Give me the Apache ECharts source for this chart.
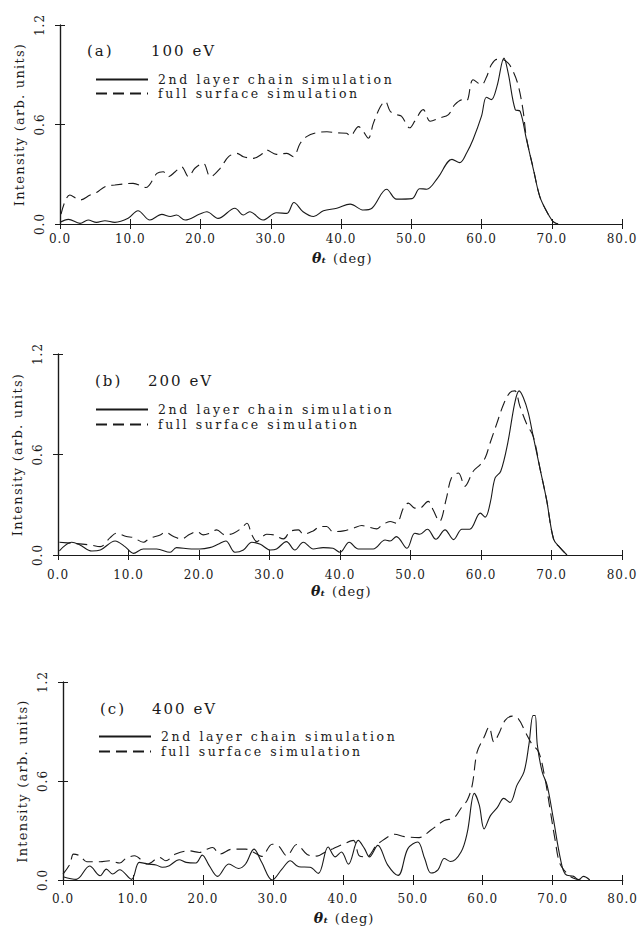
<!DOCTYPE html>
<html><head><meta charset="utf-8">
<script src="https://cdn.jsdelivr.net/npm/echarts@6/dist/echarts.min.js"></script>
<style>html,body{margin:0;padding:0;background:#fff}#c{width:639px;height:926px}</style>
</head><body><div id="c"></div>
<script>
// ---------- data (angle in deg, intensity in arb. units) ----------
const xTickValues = [0, 10, 20, 30, 40, 50, 60, 70, 80];
const yTickValues = [0.0, 0.6, 1.2];
const seriesNames = ['2nd layer chain simulation', 'full surface simulation'];
const panelLabels = ['(a)', '(b)', '(c)'];
const panelEnergies = ['100 eV', '200 eV', '400 eV'];

const aChainX = [0.0,1.2,2.85,4.0,5.2,6.4,7.8,9.7,11.1,12.8,14.5,15.7,16.6,17.8,19.9,20.9,22.5,24.9,26.1,27.0,28.9,30.8,32.3,33.3,34.6,36.1,37.5,39.4,41.3,43.2,44.4,46.5,47.9,50.1,51.2,52.2,53.8,55.8,56.9,57.9,58.8,60.0,60.7,61.4,62.2,63.2,63.8,64.8,65.5,66.4,67.4,68.3,69.3,70.2,70.9];
const aChainY = [0.01,0.028,0.004,0.024,0.01,0.02,0.01,0.034,0.08,0.024,0.058,0.045,0.054,0.024,0.06,0.074,0.034,0.095,0.054,0.074,0.024,0.068,0.064,0.13,0.074,0.045,0.08,0.095,0.12,0.084,0.095,0.21,0.15,0.153,0.213,0.21,0.28,0.39,0.37,0.43,0.51,0.65,0.764,0.75,0.83,1.0,0.91,0.69,0.68,0.51,0.326,0.165,0.074,0.014,0.0];
const aFullX = [0.15,1.4,2.85,4.3,5.2,6.4,7.8,10.4,12.2,13.8,14.7,15.4,16.4,17.3,18.3,19.2,20.4,21.4,22.8,24.0,25.2,26.1,27.5,28.9,29.4,30.8,32.3,33.2,34.2,35.1,36.5,38.0,39.4,40.8,41.3,42.5,43.2,43.9,44.6,45.6,46.3,47.0,47.9,48.6,49.8,50.5,51.7,52.7,54.1,55.3,56.2,57.4,57.9,58.8,60.0,60.7,61.4,62.2,62.9,63.8,64.5,65.2,65.9,66.4,67.4,68.3,69.3,70.2,70.9];
const aFullY = [0.06,0.175,0.145,0.175,0.19,0.225,0.235,0.245,0.22,0.305,0.315,0.285,0.315,0.345,0.285,0.336,0.366,0.285,0.336,0.406,0.426,0.406,0.396,0.426,0.446,0.42,0.426,0.406,0.487,0.527,0.55,0.556,0.55,0.547,0.53,0.587,0.556,0.517,0.607,0.707,0.74,0.68,0.66,0.65,0.58,0.62,0.69,0.62,0.64,0.66,0.72,0.75,0.745,0.87,0.84,0.885,0.96,0.993,0.993,0.97,0.92,0.84,0.69,0.52,0.33,0.165,0.074,0.014,0.0];

const bChainX = [0.2,1.94,3.1,4.8,6.0,8.1,9.5,10.7,12.1,14.0,15.9,16.8,18.9,20.1,21.5,22.7,23.8,25.1,26.3,27.5,28.7,30.1,31.0,32.4,33.6,34.8,36.2,37.6,39.0,40.0,41.3,42.6,44.7,46.4,47.1,48.0,49.5,50.6,51.3,52.4,53.6,54.9,56.1,57.3,58.4,59.9,60.6,61.3,62.0,62.8,63.8,64.8,65.4,66.0,66.7,67.4,68.4,69.3,70.3,71.2,72.2];
const bChainY = [0.024,0.076,0.06,0.024,0.03,0.084,0.05,0.01,0.036,0.036,0.016,0.044,0.036,0.036,0.044,0.064,0.084,0.016,0.03,0.076,0.064,0.03,0.036,0.08,0.03,0.076,0.036,0.044,0.04,0.016,0.076,0.036,0.036,0.09,0.084,0.11,0.04,0.13,0.124,0.154,0.094,0.15,0.092,0.154,0.154,0.25,0.226,0.31,0.46,0.5,0.67,0.91,0.98,0.94,0.85,0.71,0.51,0.33,0.094,0.044,0.0];
const bFullX = [0.2,2.0,4.5,6.0,7.4,8.3,9.7,10.7,12.1,13.0,14.5,15.2,16.4,17.5,18.7,19.7,20.6,21.5,22.5,23.7,24.9,26.0,26.8,27.5,28.2,29.6,30.6,32.0,32.9,34.1,34.8,36.2,37.2,38.1,39.0,40.5,41.9,43.1,43.8,45.2,45.9,47.1,48.0,49.0,49.7,50.6,51.3,52.5,53.2,54.1,55.1,55.8,56.8,57.7,58.9,59.9,60.6,61.3,62.2,63.2,64.1,64.8,65.5,66.5,67.4,68.4,69.3,70.3,71.2,72.2];
const bFullY = [0.076,0.07,0.06,0.05,0.104,0.13,0.11,0.104,0.076,0.1,0.12,0.136,0.11,0.096,0.124,0.14,0.12,0.13,0.15,0.12,0.13,0.16,0.19,0.12,0.08,0.124,0.12,0.096,0.14,0.15,0.124,0.144,0.17,0.17,0.14,0.144,0.16,0.176,0.17,0.156,0.176,0.2,0.19,0.28,0.31,0.28,0.28,0.32,0.27,0.2,0.34,0.46,0.49,0.41,0.5,0.54,0.58,0.67,0.78,0.9,0.97,0.98,0.89,0.78,0.71,0.51,0.33,0.094,0.044,0.0];

const cChainX = [0.0,1.9,3.8,5.3,6.2,7.1,8.1,9.8,10.9,12.1,13.3,14.2,15.2,16.6,17.6,19.0,19.9,20.9,22.1,23.7,25.1,26.1,27.3,28.4,29.9,31.3,32.5,33.7,35.3,36.5,37.9,38.9,39.8,40.8,42.2,43.1,43.8,45.0,46.4,47.9,49.3,50.7,51.7,52.6,53.6,54.5,55.4,56.9,57.8,58.8,59.5,60.2,61.1,62.1,63.0,63.9,64.9,65.9,66.6,67.2,67.5,67.8,68.5,69.2,70.1,71.1,71.8,73.0,73.7,74.4,75.3];
const cChainY = [0.02,0.004,0.085,0.026,0.066,0.036,0.062,0.004,0.107,0.097,0.091,0.077,0.087,0.123,0.107,0.103,0.151,0.087,0.022,0.097,0.07,0.097,0.187,0.107,0.0,0.066,0.117,0.08,0.077,0.04,0.2,0.14,0.17,0.096,0.24,0.19,0.14,0.21,0.092,0.028,0.19,0.23,0.13,0.042,0.062,0.13,0.112,0.17,0.29,0.525,0.455,0.31,0.39,0.44,0.495,0.47,0.575,0.655,0.82,0.997,0.997,0.82,0.655,0.575,0.37,0.13,0.036,0.022,0.002,0.022,0.0];
const cFullX = [0.0,1.0,1.5,2.4,3.4,5.3,6.7,8.1,9.0,10.2,12.1,13.8,14.7,16.1,18.0,19.5,20.6,21.4,22.4,24.2,26.1,27.3,28.4,29.9,30.8,32.0,33.4,34.9,36.3,37.5,38.6,40.2,41.5,42.4,43.4,44.8,45.7,47.4,48.8,50.9,52.6,54.5,55.9,56.9,57.8,58.5,59.2,60.2,60.9,61.6,62.3,63.2,64.2,65.1,66.1,67.0,68.0,68.9,69.6,70.3,71.0,72.0,73.0,74.0];
const cFullY = [0.036,0.097,0.157,0.147,0.111,0.111,0.117,0.103,0.131,0.147,0.097,0.137,0.117,0.157,0.177,0.167,0.187,0.197,0.157,0.187,0.187,0.167,0.143,0.217,0.207,0.147,0.215,0.155,0.145,0.17,0.19,0.22,0.24,0.145,0.14,0.21,0.24,0.277,0.263,0.257,0.303,0.36,0.377,0.435,0.485,0.575,0.776,0.866,0.927,0.836,0.886,0.967,0.993,0.977,0.896,0.826,0.776,0.615,0.435,0.254,0.103,0.042,0.01,0.0];

// ---------- layout ----------
const grids = [
  {left: 60, top: 25, width: 562, height: 199},
  {left: 58, top: 354, width: 564, height: 201},
  {left: 63, top: 682, width: 563, height: 200}
];
const xLabelMargin = [9, 14, 13];
const xNameGap = [27, 29, 31];
const titlePos = [{left: 87, top: 43, w: 64}, {left: 95, top: 373, w: 53}, {left: 100, top: 701, w: 52}];
const legendPos = [{left: 95, top: 73, gap: 1}, {left: 95, top: 403, gap: 2}, {left: 98, top: 730, gap: 2}];

const FONT = 'DejaVu Serif';
const INK = '#1a1a1a';
const pairs = (xs, ys) => xs.map((x, i) => [x, ys[i]]);
const panels = [
  [pairs(aChainX, aChainY), pairs(aFullX, aFullY)],
  [pairs(bChainX, bChainY), pairs(bFullX, bFullY)],
  [pairs(cChainX, cChainY), pairs(cFullX, cFullY)]
];

const xAxes = [], yAxes = [], series = [], titles = [], legends = [];
const axisLine = {show: true, lineStyle: {color: INK, width: 1.2}};
const tick = {show: true, inside: true, length: 5, lineStyle: {color: INK, width: 1}};
grids.forEach((g, p) => {
  const xBase = {type: 'value', gridIndex: p, min: xTickValues[0], max: xTickValues[xTickValues.length - 1],
    interval: xTickValues[1] - xTickValues[0], splitLine: {show: false}, axisLine, axisTick: tick};
  const yBase = {type: 'value', gridIndex: p, min: yTickValues[0], max: yTickValues[yTickValues.length - 1],
    interval: yTickValues[1] - yTickValues[0], splitLine: {show: false}, axisLine, axisTick: tick};
  xAxes.push(Object.assign({}, xBase, {
    position: 'bottom',
    axisLabel: {show: true, margin: xLabelMargin[p], fontFamily: FONT, fontSize: 12, color: INK, formatter: v => v.toFixed(1)},
    name: '{th|θₜ}{d|(deg)}', nameLocation: 'middle', nameGap: xNameGap[p],
    nameTextStyle: {fontFamily: FONT, fontSize: 13, color: INK,
      rich: {th: {fontFamily: FONT, fontSize: 14, fontStyle: 'italic', fontWeight: 'bold', color: INK, padding: [0, 3, 0, 0]},
             d: {fontFamily: FONT, fontSize: 13, color: INK, padding: [0, 0, 0, 6]}}}
  }));
  xAxes.push(Object.assign({}, xBase, {position: 'top', axisLabel: {show: false}}));
  yAxes.push(Object.assign({}, yBase, {
    position: 'left',
    axisLabel: {show: true, rotate: 90, margin: 14, fontFamily: FONT, fontSize: 12, color: INK, formatter: v => v.toFixed(1)},
    name: 'Intensity (arb. units)', nameLocation: 'middle', nameRotate: 90, nameGap: 33,
    nameTextStyle: {fontFamily: FONT, fontSize: 13, color: INK}
  }));
  yAxes.push(Object.assign({}, yBase, {position: 'right', axisLabel: {show: false}}));
  series.push({
    name: seriesNames[0], type: 'line', xAxisIndex: 2 * p, yAxisIndex: 2 * p, data: panels[p][0],
    symbol: 'none', smooth: 0.35, lineStyle: {color: INK, width: 1.1, type: 'solid'}, itemStyle: {color: INK}
  });
  series.push({
    name: seriesNames[1], type: 'line', xAxisIndex: 2 * p, yAxisIndex: 2 * p, data: panels[p][1],
    symbol: 'none', smooth: 0.35, lineStyle: {color: INK, width: 1.1, type: [11, 6]}, itemStyle: {color: INK}
  });
  titles.push({
    text: '{p|' + panelLabels[p] + '}{e|' + panelEnergies[p] + '}', left: titlePos[p].left, top: titlePos[p].top, padding: 0,
    textStyle: {fontFamily: FONT, fontWeight: 'normal', fontSize: 15, color: INK,
      rich: {p: {fontFamily: FONT, fontSize: 15, width: titlePos[p].w, color: INK}, e: {fontFamily: FONT, fontSize: 15, color: INK}}}
  });
  legends.push({
    data: seriesNames, orient: 'vertical', left: legendPos[p].left, top: legendPos[p].top, padding: 0,
    itemWidth: 52, itemHeight: 14, itemGap: legendPos[p].gap, selectedMode: false,
    itemStyle: {opacity: 0},
    textStyle: {fontFamily: FONT, fontSize: 12.5, color: INK, padding: [0, 0, 0, 5]}
  });
});

const chart = echarts.init(document.getElementById('c'), null, {renderer: 'svg'});
chart.setOption({
  animation: false,
  backgroundColor: '#fff',
  grid: grids.map(g => Object.assign({containLabel: false}, g)),
  xAxis: xAxes, yAxis: yAxes, series, title: titles, legend: legends
});

// typewriter-like letter spacing of the original typesetting
function spaceText() {
  document.querySelectorAll('#c text').forEach(t => {
    const s = t.textContent;
    let ls = 0;
    if (seriesNames.includes(s)) ls = 2.6;
    else if (/^\d+\.\d$/.test(s)) ls = 1;
    else if (panelLabels.includes(s) || panelEnergies.includes(s)) ls = 2;
    else if (s.indexOf('Intensity') === 0) ls = 1.25;
    else if (s.indexOf('deg') >= 0) ls = 1;
    t.style.letterSpacing = ls + 'px';
  });
}
spaceText();
chart.on('finished', spaceText);
</script></body></html>
